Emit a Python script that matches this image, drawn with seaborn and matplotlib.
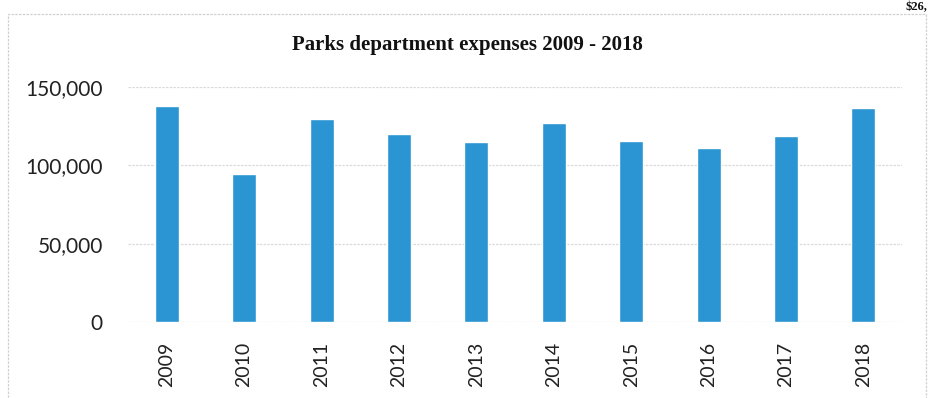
import matplotlib
matplotlib.use("Agg")
import matplotlib.pyplot as plt
import seaborn as sns
import pandas as pd
from matplotlib.ticker import FuncFormatter
from matplotlib.patches import Rectangle

years = ["2009", "2010", "2011", "2012", "2013", "2014", "2015", "2016", "2017", "2018"]
expenses = [137500, 94300, 129700, 120100, 114700, 127100, 115300, 110800, 118900, 136500]
y_ticks = [0, 50000, 100000, 150000]

df = pd.DataFrame({"year": years, "expenses": expenses})

sns.set_theme(style="white")
plt.rcParams["font.family"] = ["Lato", "DejaVu Sans"]

fig = plt.figure(figsize=(9.3, 3.98), dpi=100)
ax = fig.add_axes([0.1376, 0.1902, 0.8324, 0.5920])

sns.barplot(data=df, x="year", y="expenses", color="#2B95D3", saturation=1,
            width=0.31, ax=ax, zorder=3)

ax.set_ylim(0, 150000)
ax.set_xlim(-0.5, len(years) - 0.5)
ax.set_yticks(y_ticks)
ax.yaxis.set_major_formatter(FuncFormatter(lambda v, p: f"{int(v):,}"))
ax.set_xlabel("")
ax.set_ylabel("")
ax.grid(axis="y", color="#dadada", linewidth=0.9, linestyle=(0, (2, 1)), zorder=0)
ax.grid(axis="x", visible=False)
for s in ax.spines.values():
    s.set_visible(False)
ax.tick_params(axis="both", length=0, colors="#222222")
ax.tick_params(axis="y", pad=18, labelsize=15)
ax.tick_params(axis="x", pad=14, labelsize=14)
for lbl in ax.get_xticklabels():
    lbl.set_rotation(90)

# chart frame
fig.patches.append(Rectangle((8 / 930, -0.05), 918 / 930, 1 - 14 / 398 + 0.05,
                             transform=fig.transFigure, fill=False,
                             edgecolor="#d0d0d0", linewidth=0.9,
                             linestyle=(0, (2, 1)), zorder=0))

fig.text(0.503, 0.886, "Parks department expenses 2009 - 2018",
         ha="center", va="center", fontsize=15, fontweight="bold",
         family=["Liberation Serif", "DejaVu Serif"], color="#111111")

fig.text(0.997, 0.997, "$26,", ha="right", va="top", fontsize=9,
         fontweight="bold", family=["Liberation Serif", "DejaVu Serif"],
         color="#111111")

fig.savefig("out.png", dpi=100, facecolor="white")
